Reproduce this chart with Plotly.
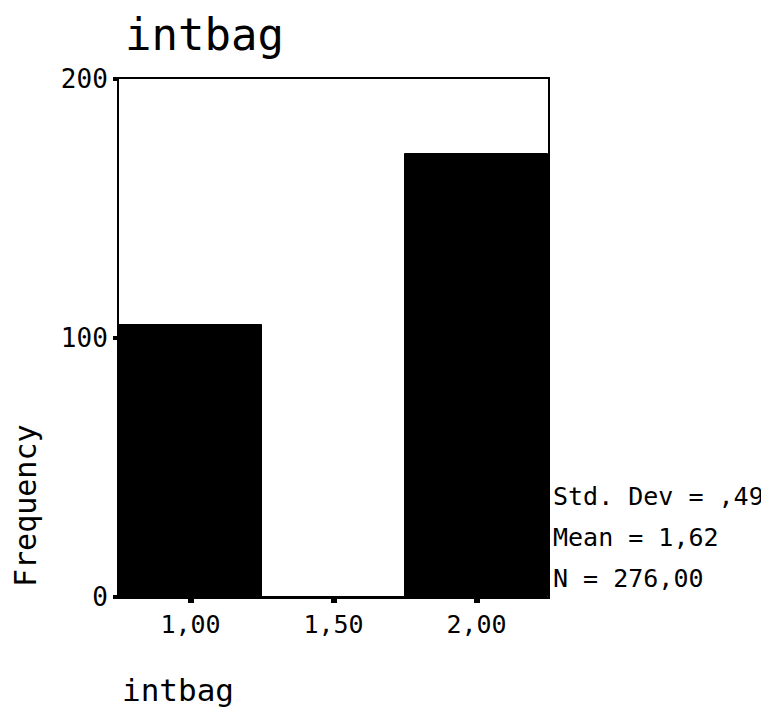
import plotly.graph_objects as go

# Data
bin_centers = [1.0, 1.5, 2.0]
frequencies = [105, 0, 171]
x_tick_vals = [1.0, 1.5, 2.0]
x_tick_text = ["1,00", "1,50", "2,00"]
y_tick_vals = [0, 100, 200]
y_tick_text = ["0", "100", "200"]
stats_lines = ["Std. Dev = ,49", "Mean = 1,62", "N = 276,00"]
title_text = "intbag"
x_label = "intbag"
y_label = "Frequency"

# The page body adds an 8px margin; draw everything offset by it.
OFF = 8
W, H = 769 - OFF, 718 - OFF
L, R, T, B = 119 - OFF, 548 - OFF, 79 - OFF, 597 - OFF
FONT = "DejaVu Sans Mono"


def px(x):
    return (x - OFF - L) / (R - L)


def py(y):
    return (B - (y - OFF)) / (B - T)


fig = go.Figure()
fig.add_trace(go.Bar(
    x=bin_centers, y=frequencies, width=0.5,
    marker=dict(color="black", line=dict(color="black", width=1)),
    showlegend=False, hoverinfo="skip",
))

annotations = [
    dict(text=title_text, x=px(123), y=py(35), xanchor="left", yanchor="middle",
         font=dict(size=44, family=FONT, color="black")),
    dict(text=x_label, x=px(120), y=py(690), xanchor="left", yanchor="middle",
         font=dict(size=31, family=FONT, color="black")),
    dict(text=y_label, x=px(25), y=py(506), xanchor="center", yanchor="middle",
         textangle=-90, font=dict(size=30, family=FONT, color="black")),
]
for i, line in enumerate(stats_lines):
    annotations.append(dict(text=line, x=px(551), y=py(497 + 40.5 * i),
                            xanchor="left", yanchor="middle",
                            font=dict(size=25, family=FONT, color="black")))
for a in annotations:
    a.update(xref="paper", yref="paper", showarrow=False)

fig.update_layout(
    width=W, height=H,
    margin=dict(l=L, r=W - R, t=T, b=H - B, pad=0),
    paper_bgcolor="white", plot_bgcolor="white",
    bargap=0,
    annotations=annotations,
    font=dict(family=FONT, color="black"),
)
fig.update_xaxes(
    range=[0.75, 2.25], tickvals=x_tick_vals, ticktext=x_tick_text,
    ticks="outside", ticklen=4, tickwidth=6, tickcolor="black",
    showline=True, linecolor="black", linewidth=2, mirror=True,
    showgrid=False, zeroline=False,
    tickfont=dict(size=25, family=FONT, color="black"),
)
fig.update_yaxes(
    range=[0, 200], tickvals=y_tick_vals, ticktext=y_tick_text,
    ticks="outside", ticklen=4, tickwidth=4, tickcolor="black",
    showline=True, linecolor="black", linewidth=2, mirror=True,
    showgrid=False, zeroline=False,
    tickfont=dict(size=26, family=FONT, color="black"),
)

fig.write_html("out.html")
